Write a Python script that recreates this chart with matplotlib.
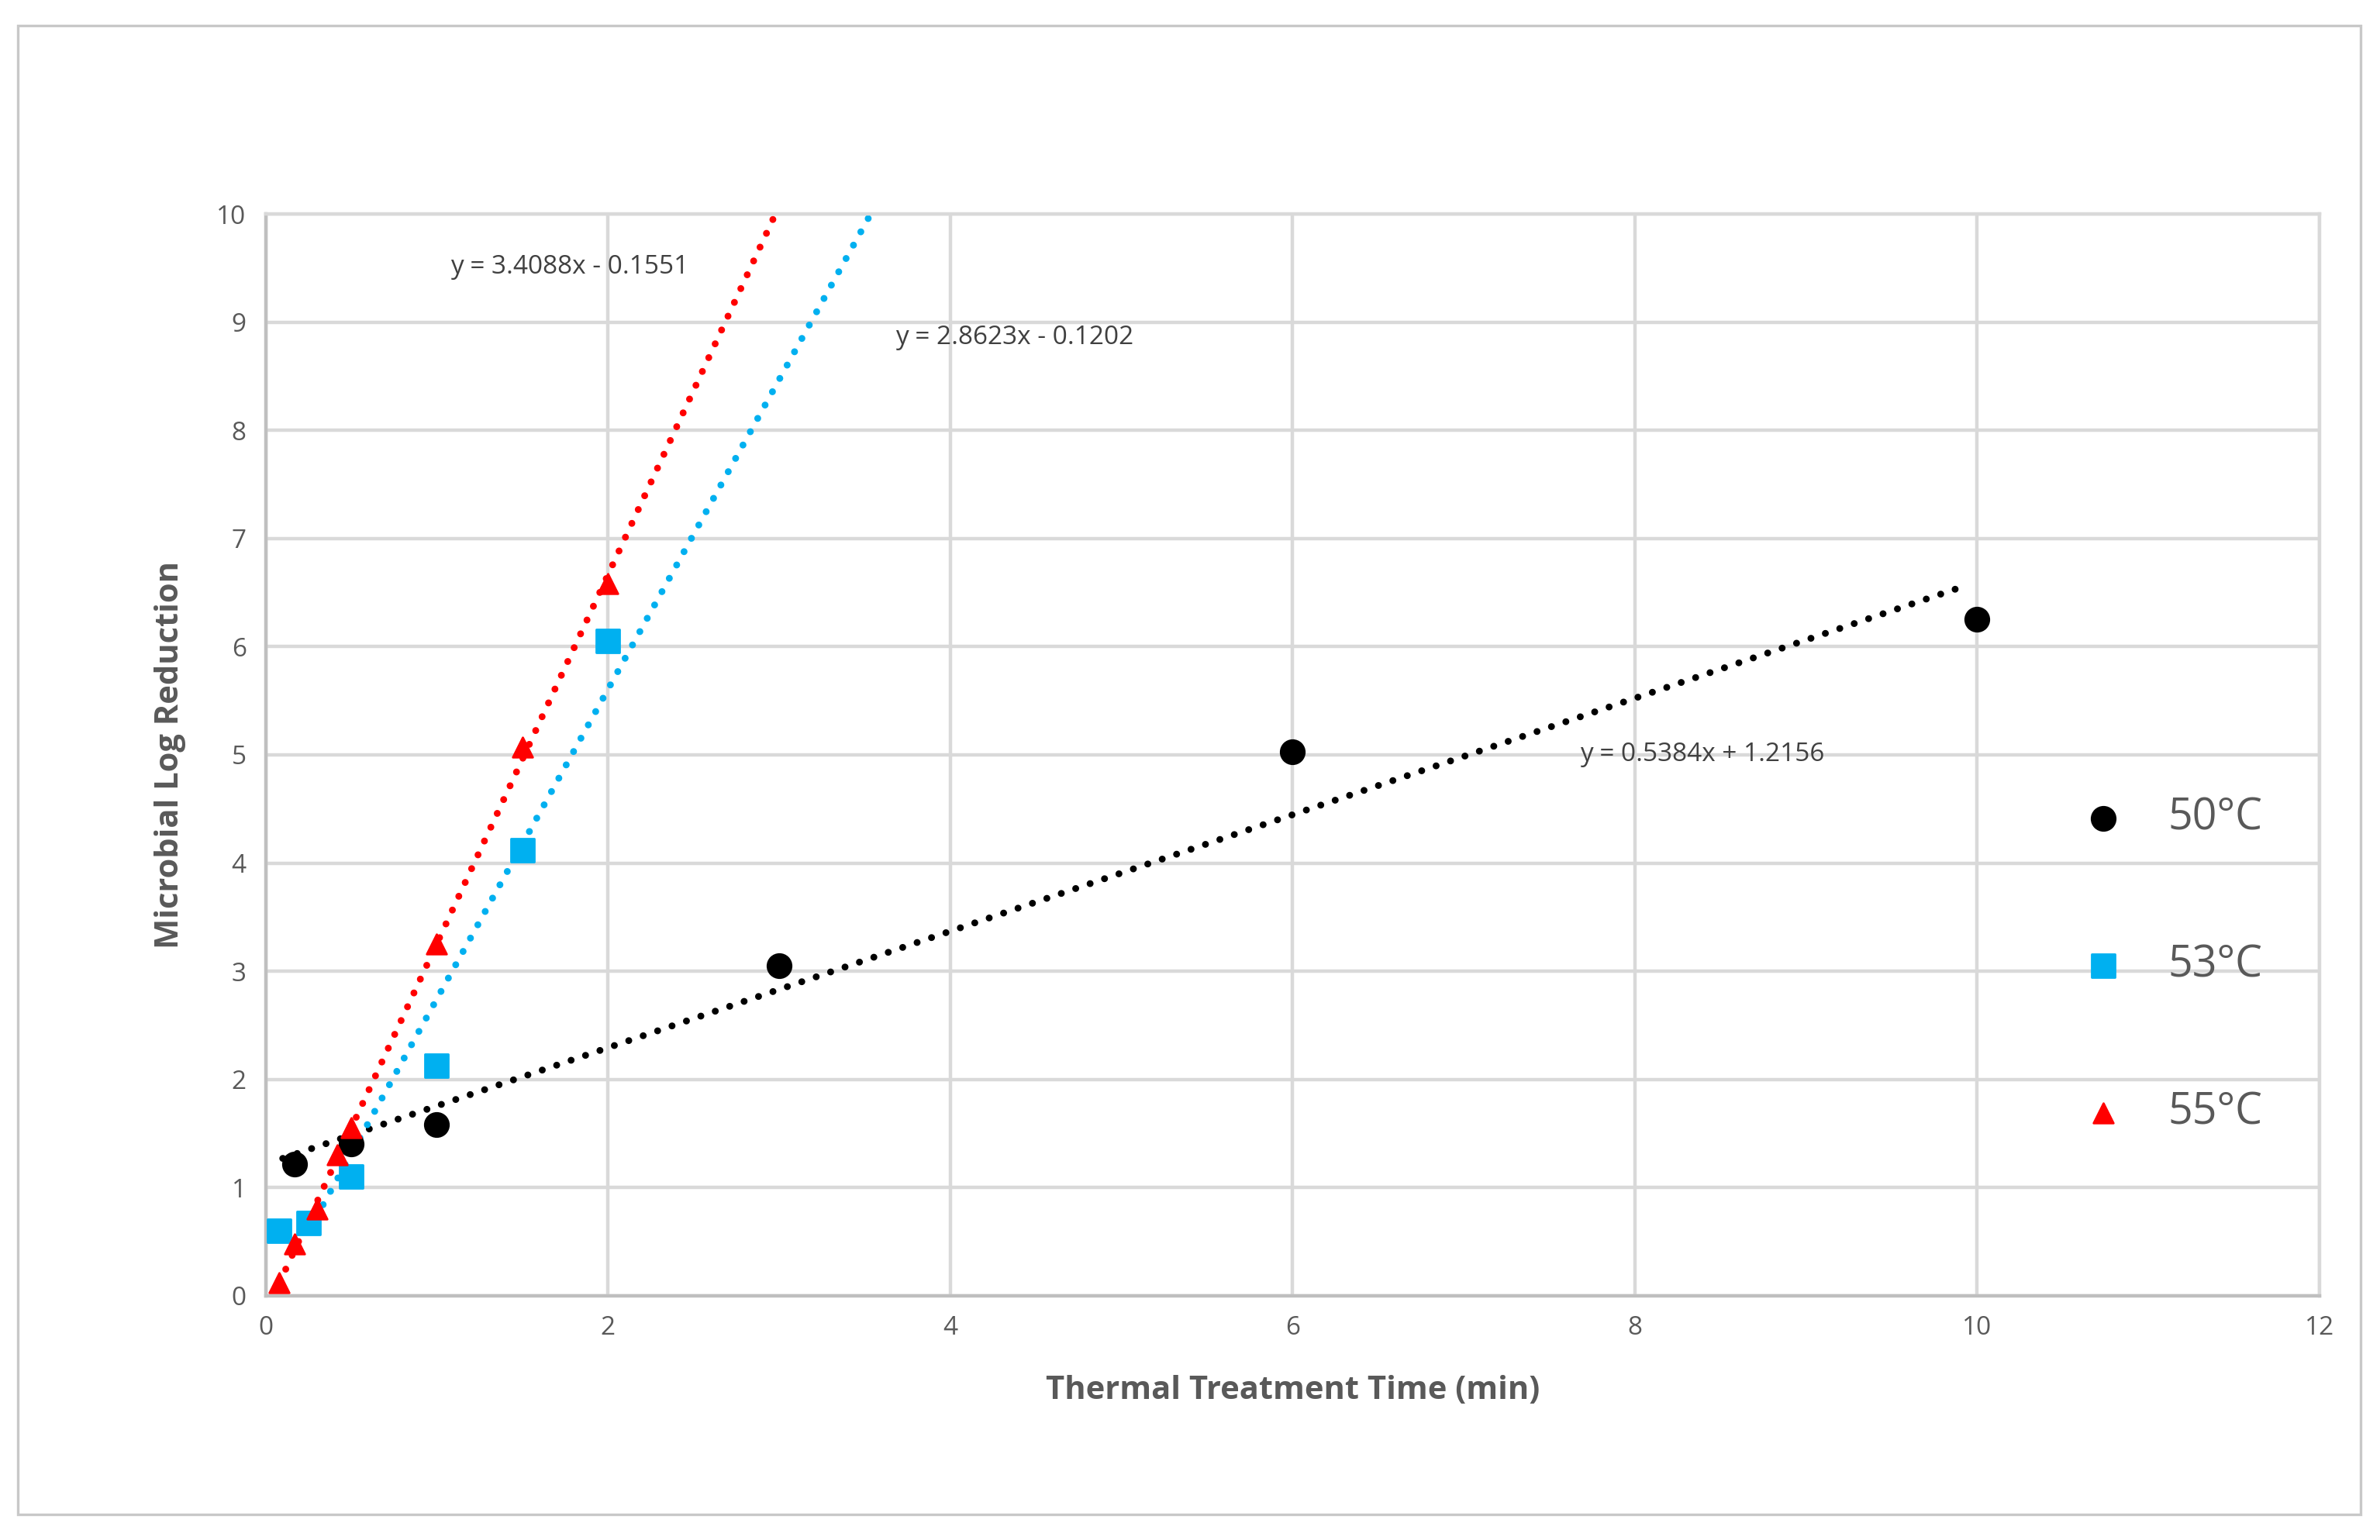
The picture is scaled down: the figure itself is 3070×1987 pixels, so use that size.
import matplotlib.pyplot as plt
import numpy as np
from matplotlib.patches import Rectangle

plt.rcParams['font.family'] = ['Open Sans', 'DejaVu Sans']

# data
t50 = [0.17, 0.5, 1, 3, 6, 10]
r50 = [1.22, 1.4, 1.58, 3.05, 5.03, 6.25]
t53 = [0.08, 0.25, 0.5, 1, 1.5, 2]
r53 = [0.6, 0.67, 1.1, 2.13, 4.12, 6.05]
t55 = [0.08, 0.17, 0.3, 0.42, 0.5, 1, 1.5, 2]
r55 = [0.12, 0.48, 0.8, 1.3, 1.55, 3.25, 5.07, 6.58]

# trend line equations (slope, intercept) and x range
fit50 = (0.5384, 1.2156, 0.1, 9.9)
fit53 = (2.8623, -0.1202, 0.25, 3.536)
fit55 = (3.4088, -0.1551, 0.08, 2.979)

fig = plt.figure(figsize=(15.35, 9.935), dpi=200)
W, H = 1568, 1015
fig.patches.append(Rectangle((12 / W, 1 - 998 / H), (1555 - 12) / W, (998 - 17) / H,
                             transform=fig.transFigure, fill=False, ec='#c8c8c8', lw=1.2))
ax = fig.add_axes([175 / W, 1 - 854 / H, (1528 - 175) / W, (854 - 141) / H])

ax.set_xlim(0, 12)
ax.set_ylim(0, 10)
ax.set_xticks(range(0, 13, 2))
ax.set_yticks(range(0, 11))
ax.grid(True, color='#d9d9d9', lw=1.6)
ax.set_axisbelow(True)
for s in ax.spines.values():
    s.set_color('#d9d9d9')
    s.set_linewidth(1.6)
ax.spines['bottom'].set_color('#bfbfbf')
ax.spines['left'].set_color('#bfbfbf')
ax.tick_params(length=0, labelsize=12, colors='#595959', pad=9)

for fit, col in [(fit50, 'black'), (fit53, '#00b0f0'), (fit55, '#ff0000')]:
    m, b, x0, x1 = fit
    xs = np.array([x0, x1])
    ax.plot(xs, m * xs + b, color=col, ls=(0, (0.01, 2.2)), lw=3.2, dash_capstyle='round')

ax.scatter(t50, r50, color='black', marker='o', s=120, zorder=3, label='50°C')
ax.scatter(t53, r53, color='#00b0f0', marker='s', s=110, zorder=3, label='53°C')
ax.scatter(t55, r55, color='#ff0000', marker='^', s=85, zorder=3, label='55°C')

ax.text(1.08, 9.45, 'y = 3.4088x - 0.1551', fontsize=12, color='#404040')
ax.text(3.68, 8.8, 'y = 2.8623x - 0.1202', fontsize=12, color='#404040')
ax.text(7.68, 4.94, 'y = 0.5384x + 1.2156', fontsize=12, color='#404040')

ax.set_xlabel('Thermal Treatment Time (min)', fontsize=15, fontweight='bold', color='#595959', labelpad=16)
ax.set_ylabel('Microbial Log Reduction', fontsize=15, fontweight='bold', color='#595959', labelpad=14)

leg = ax.legend(loc='center left', bbox_to_anchor=(0.855, 0.305), frameon=False, fontsize=20,
                labelspacing=2.4, handletextpad=0.5, labelcolor='#595959')

fig.savefig('out.png')
